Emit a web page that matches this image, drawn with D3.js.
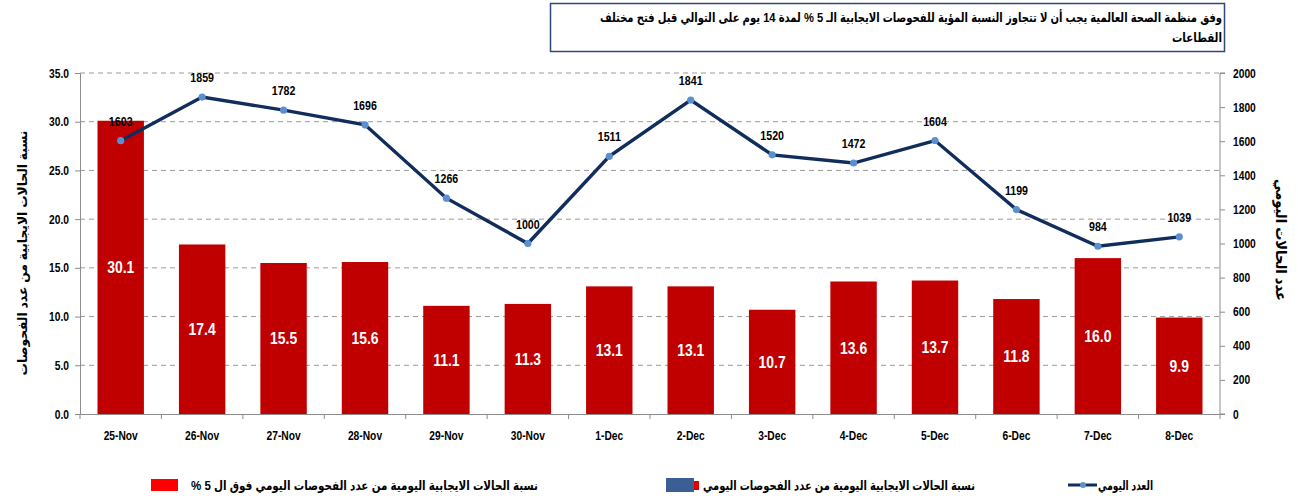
<!DOCTYPE html>
<html>
<head>
<meta charset="utf-8">
<script src="https://cdn.jsdelivr.net/npm/d3@7"></script>
<style>
  body { margin: 0; background: #fff; }
  svg { display: block; font-family: "Liberation Sans Narrow", "Liberation Sans", "DejaVu Sans", sans-serif; font-stretch: condensed; }
  .tick text { font-size: 12.5px; font-weight: bold; fill: #000; }
</style>
</head>
<body>
<div id="chart"></div>
<script>
const days = ["25-Nov", "26-Nov", "27-Nov", "28-Nov", "29-Nov", "30-Nov", "1-Dec",
  "2-Dec", "3-Dec", "4-Dec", "5-Dec", "6-Dec", "7-Dec", "8-Dec"];
const positiveRate = [30.1, 17.4, 15.5, 15.6, 11.1, 11.3, 13.1, 13.1, 10.7, 13.6, 13.7, 11.8, 16.0, 9.9];
const dailyCases = [1603, 1859, 1782, 1696, 1266, 1000, 1511, 1841, 1520, 1472, 1604, 1199, 984, 1039];
const leftTicks = [0, 5, 10, 15, 20, 25, 30, 35];
const rightTicks = [0, 200, 400, 600, 800, 1000, 1200, 1400, 1600, 1800, 2000];

const titleText = "وفق منظمة الصحة العالمية يجب أن لا تتجاوز النسبة المؤية للفحوصات الايجابية الـ 5 % لمدة 14 يوم على التوالي قبل فتح مختلف";
const titleText2 = "القطاعات";
const leftTitle = "نسبة الحالات الايجابية من عدد الفحوصات";
const rightTitle = "عدد الحالات اليومي";
const legendRed = "نسبة الحالات الايجابية اليومية من عدد الفحوصات اليومي فوق ال 5 %";
const legendBlue = "نسبة الحالات الايجابية اليومية من عدد الفحوصات اليومي";
const legendLine = "العدد اليومي";

const width = 1298, height = 504;
const margin = { top: 73, right: 78, bottom: 90, left: 80 };
const innerW = width - margin.left - margin.right;
const innerH = height - margin.top - margin.bottom;

const svg = d3.select("#chart").append("svg")
  .attr("width", width)
  .attr("height", height);

const g = svg.append("g")
  .attr("transform", `translate(${margin.left},${margin.top})`);

const x = d3.scaleBand().domain(days).range([0, innerW]).paddingInner(0.43).paddingOuter(0.215);
const xBand = d3.scaleBand().domain(days).range([0, innerW]);
const yLeft = d3.scaleLinear().domain([0, 35]).range([innerH, 0]);
const yRight = d3.scaleLinear().domain([0, 2000]).range([innerH, 0]);

// squeeze text horizontally to look like Arial Narrow
const narrow = 0.82;

// gridlines
g.append("g")
  .selectAll("line")
  .data(leftTicks.filter(d => d > 0))
  .join("line")
  .attr("x1", 0)
  .attr("x2", innerW)
  .attr("y1", d => yLeft(d))
  .attr("y2", d => yLeft(d))
  .attr("stroke", "#9a9a9a")
  .attr("stroke-dasharray", "5,4");

// bars
g.append("g")
  .selectAll("rect")
  .data(positiveRate)
  .join("rect")
  .attr("x", (d, i) => x(days[i]))
  .attr("y", d => yLeft(d))
  .attr("width", x.bandwidth())
  .attr("height", d => innerH - yLeft(d))
  .attr("fill", "#c00000");

g.append("g")
  .selectAll("text")
  .data(positiveRate)
  .join("text")
  .attr("transform", (d, i) => `translate(${x(days[i]) + x.bandwidth() / 2},${(yLeft(d) + innerH) / 2}) scale(${narrow},1)`)
  .attr("dy", "0.35em")
  .attr("text-anchor", "middle")
  .attr("fill", "#fff")
  .attr("font-size", 17)
  .attr("font-weight", "bold")
  .text(d => d.toFixed(1));

// axes
const leftAxis = g.append("g")
  .call(d3.axisLeft(yLeft).tickValues(leftTicks).tickFormat(d3.format(".1f")).tickSize(5).tickPadding(6));
const rightAxis = g.append("g")
  .attr("transform", `translate(${innerW},0)`)
  .call(d3.axisRight(yRight).tickValues(rightTicks).tickFormat(d3.format("d")).tickSize(5).tickPadding(8));

const bottomAxis = g.append("g")
  .attr("transform", `translate(0,${innerH})`)
  .call(d3.axisBottom(xBand).tickSize(0).tickPadding(17));
bottomAxis.selectAll(".tick line").remove();
bottomAxis.selectAll(".boundary")
  .data(d3.range(days.length + 1))
  .join("line")
  .attr("x1", i => i * xBand.step())
  .attr("x2", i => i * xBand.step())
  .attr("y1", 0)
  .attr("y2", 5)
  .attr("stroke", "#8c8c8c");

// narrow the tick labels around their anchor
[leftAxis, rightAxis, bottomAxis].forEach(a => {
  a.select(".domain").attr("stroke", "#8c8c8c");
  a.selectAll(".tick line").attr("stroke", "#8c8c8c");
  a.selectAll(".tick text").each(function () {
    const t = d3.select(this);
    const tx = +t.attr("x") || 0;
    const ty = +t.attr("y") || 0;
    t.attr("x", 0).attr("y", 0)
      .attr("transform", `translate(${tx},${ty}) scale(${narrow},1)`);
  });
});
rightAxis.select(".domain").attr("d", `M5,0H0V${innerH}H5`);

// line
const lineX = (d, i) => xBand(days[i]) + xBand.bandwidth() / 2;
const line = d3.line().x(lineX).y(d => yRight(d));

g.append("path")
  .datum(dailyCases)
  .attr("d", line)
  .attr("fill", "none")
  .attr("stroke", "#112d5c")
  .attr("stroke-width", 3.4);

g.append("g")
  .selectAll("circle")
  .data(dailyCases)
  .join("circle")
  .attr("cx", lineX)
  .attr("cy", d => yRight(d))
  .attr("r", 3.6)
  .attr("fill", "#5a8fd0");

g.append("g")
  .selectAll("text")
  .data(dailyCases)
  .join("text")
  .attr("transform", (d, i) => `translate(${lineX(d, i)},${yRight(d) - 15}) scale(${narrow},1)`)
  .attr("text-anchor", "middle")
  .attr("font-size", 13)
  .attr("font-weight", "bold")
  .attr("fill", "#000")
  .text(d => d);

// Arabic strings are fitted to the width they take in the original
function arabic(sel, len) {
  return sel.attr("direction", "rtl")
    .attr("font-weight", "bold")
    .attr("textLength", len)
    .attr("lengthAdjust", "spacingAndGlyphs");
}

// axis titles
arabic(svg.append("text")
  .attr("transform", `translate(22,${margin.top + 180}) rotate(-90)`)
  .attr("text-anchor", "middle")
  .attr("dy", "0.35em")
  .attr("font-size", 13)
  .text(leftTitle), 245);

arabic(svg.append("text")
  .attr("transform", `translate(1281,${margin.top + 167}) rotate(90)`)
  .attr("text-anchor", "middle")
  .attr("dy", "0.35em")
  .attr("font-size", 15)
  .text(rightTitle), 122);

// title box
svg.append("rect")
  .attr("x", 550.5)
  .attr("y", 3.5)
  .attr("width", 674)
  .attr("height", 48)
  .attr("fill", "#fff")
  .attr("stroke", "#2e4a76")
  .attr("stroke-width", 1.5);

arabic(svg.append("text")
  .attr("x", 1222)
  .attr("y", 22)
  .attr("text-anchor", "start")
  .attr("font-size", 13)
  .text(titleText), 622);

arabic(svg.append("text")
  .attr("x", 1222)
  .attr("y", 42)
  .attr("text-anchor", "start")
  .attr("font-size", 13)
  .text(titleText2), 50);

// legend
const legend = svg.append("g");
legend.append("rect").attr("x", 151).attr("y", 479).attr("width", 27).attr("height", 12).attr("fill", "#ff0000");
arabic(legend.append("text").attr("x", 538).attr("y", 490).attr("text-anchor", "start")
  .attr("font-size", 13).text(legendRed), 347);

legend.append("rect").attr("x", 666).attr("y", 478).attr("width", 28).attr("height", 14).attr("fill", "#3a5f95");
legend.append("rect").attr("x", 694).attr("y", 481).attr("width", 5).attr("height", 9).attr("fill", "#e00000");
arabic(legend.append("text").attr("x", 975).attr("y", 490).attr("text-anchor", "start")
  .attr("font-size", 13).text(legendBlue), 272);

legend.append("line").attr("x1", 1068).attr("x2", 1097).attr("y1", 485).attr("y2", 485)
  .attr("stroke", "#112d5c").attr("stroke-width", 3);
legend.append("circle").attr("cx", 1083).attr("cy", 485).attr("r", 3).attr("fill", "#5a8fd0");
arabic(legend.append("text").attr("x", 1153).attr("y", 490).attr("text-anchor", "start")
  .attr("font-size", 13).text(legendLine), 55);
</script>
</body>
</html>
